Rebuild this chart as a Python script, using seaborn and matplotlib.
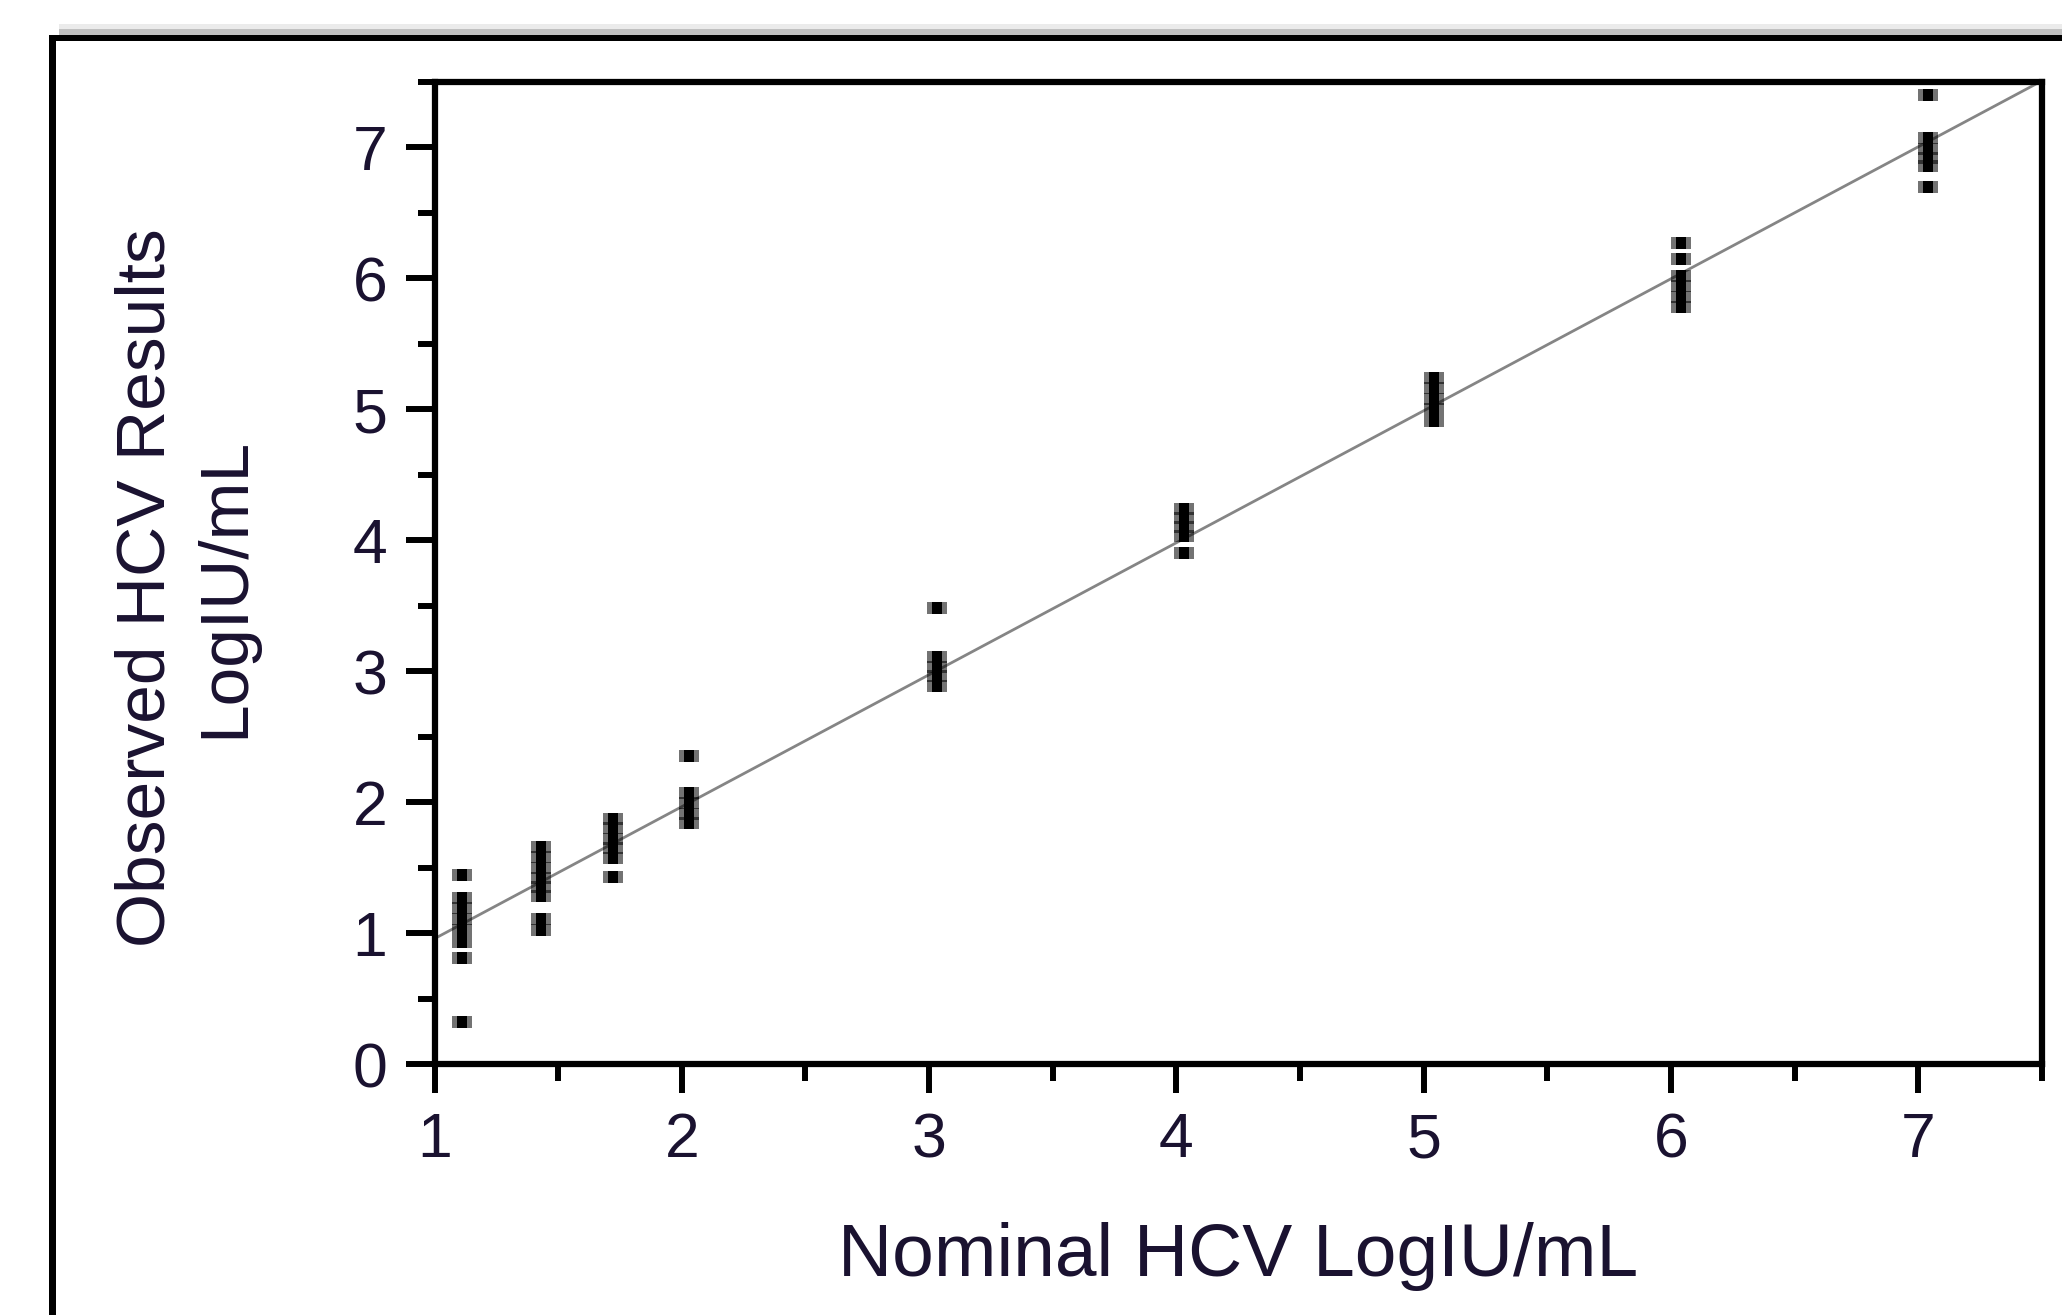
import numpy as np
import pandas as pd
import matplotlib
matplotlib.use("Agg")
import matplotlib.pyplot as plt
from matplotlib.patches import Rectangle
from matplotlib.ticker import MultipleLocator
import seaborn as sns

# nominal levels (x) and the observed replicates read at each level (y)
nominal = [1.11, 1.43, 1.72, 2.03, 3.03, 4.03, 5.04, 6.04, 7.04]
observed = [
    [1.44, 1.27, 1.19, 1.11, 1.02, 0.93, 0.81, 0.32],
    [1.66, 1.58, 1.50, 1.42, 1.35, 1.28, 1.11, 1.02],
    [1.87, 1.80, 1.72, 1.65, 1.57, 1.43],
    [2.35, 2.07, 1.99, 1.91, 1.84],
    [3.48, 3.11, 3.03, 2.96, 2.89],
    [4.24, 4.17, 4.10, 4.03, 3.90],
    [5.24, 5.16, 5.08, 5.00, 4.91],
    [6.27, 6.15, 6.02, 5.94, 5.86, 5.78],
    [7.40, 7.07, 6.99, 6.92, 6.86, 6.70],
]
x_ticks = [1, 2, 3, 4, 5, 6, 7]
y_ticks = [0, 1, 2, 3, 4, 5, 6, 7]

rows = [(x, y) for x, ys in zip(nominal, observed) for y in ys]
df = pd.DataFrame(rows, columns=["nominal", "observed"])

sns.set_style("ticks")
plt.rcParams["font.family"] = ["Liberation Sans", "DejaVu Sans"]
txt = "#1a1230"

fig = plt.figure(figsize=(20.62, 13.15), dpi=100)
ax = fig.add_axes([434.5 / 2062, 1 - 1064 / 1315, 1607.5 / 2062, 982 / 1315])

# window frame of the screenshot
fig.add_artist(Rectangle((59 / 2062, 1 - 29 / 1315), 1, 5 / 1315,
                         transform=fig.transFigure, color="#ebebeb", lw=0))
fig.add_artist(Rectangle((59 / 2062, 1 - 35 / 1315), 1, 6 / 1315,
                         transform=fig.transFigure, color="#c0c0c0", lw=0))
fig.add_artist(Rectangle((55 / 2062, 1 - 41 / 1315), 1, 6 / 1315,
                         transform=fig.transFigure, color="black", lw=0))
fig.add_artist(Rectangle((49 / 2062, 0), 7 / 2062, 1 - 35 / 1315,
                         transform=fig.transFigure, color="black", lw=0))

ax.set_xlim(1, 7.5)
ax.set_ylim(0, 7.5)

# fitted line across the whole axis
sns.regplot(data=df, x="nominal", y="observed", ax=ax, scatter=False,
            ci=None, truncate=False,
            line_kws=dict(color="#858585", lw=2.0))

# blurred square dots: grey halo then black core
halo = [(-0.5, -0.3), (0.5, -0.3), (0.5, 0.3), (-0.5, 0.3)]
core = [(-0.42, -0.5), (0.42, -0.5), (0.42, 0.5), (-0.42, 0.5)]
sns.scatterplot(data=df, x="nominal", y="observed", ax=ax, marker=halo,
                s=200, color="black", alpha=0.55, linewidth=0, zorder=3)
sns.scatterplot(data=df, x="nominal", y="observed", ax=ax, marker=core,
                s=72, color="black", linewidth=0, zorder=4)

ax.set_xticks(x_ticks)
ax.set_yticks(y_ticks)
ax.xaxis.set_minor_locator(MultipleLocator(0.5))
ax.yaxis.set_minor_locator(MultipleLocator(0.5))
ax.tick_params(which="major", length=21, width=4.3, color="black",
               labelsize=45, labelcolor=txt, pad=13)
ax.tick_params(which="minor", length=12, width=4.3, color="black")
for s in ax.spines.values():
    s.set_visible(True)
    s.set_linewidth(4.5)
    s.set_color("black")

ax.set_xlabel("Nominal HCV LogIU/mL", fontsize=54, color=txt)
ax.set_ylabel("Observed HCV Results\nLogIU/mL", fontsize=50, color=txt,
              linespacing=1.3)
ax.xaxis.set_label_coords(0.5, -0.161)
ax.yaxis.set_label_coords(-0.11, 0.485)

fig.savefig("out.png", dpi=100)
